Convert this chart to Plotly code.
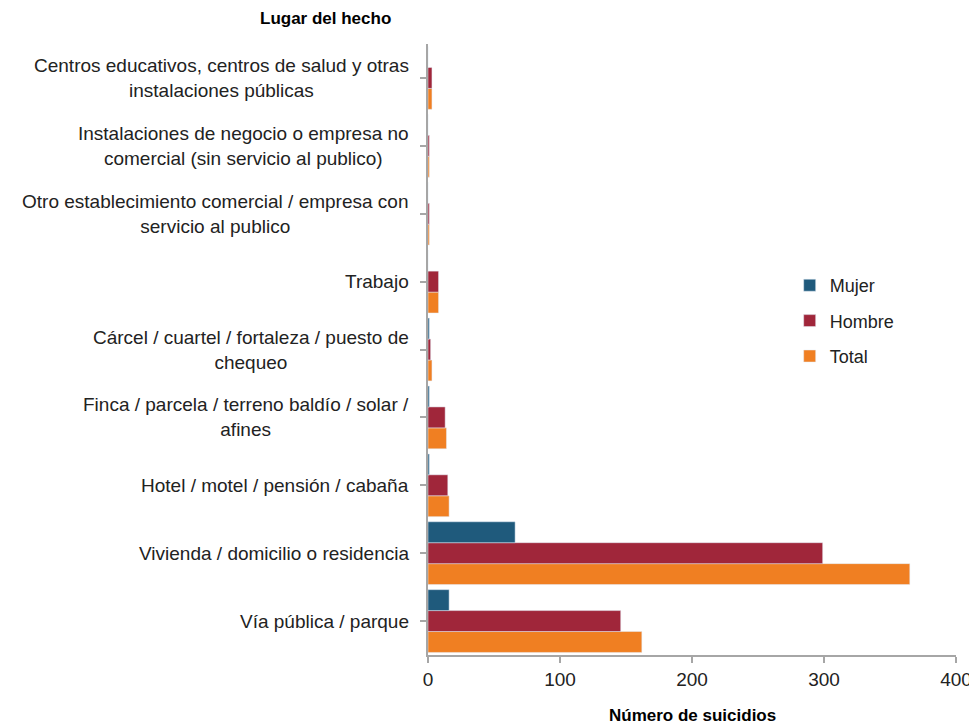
import plotly.graph_objects as go

categories = [
    "Vía pública / parque",
    "Vivienda / domicilio o residencia",
    "Hotel / motel / pensión / cabaña",
    "Finca / parcela / terreno baldío / solar /<br>afines",
    "Cárcel / cuartel / fortaleza / puesto de<br>chequeo",
    "Trabajo",
    "Otro establecimiento comercial / empresa con<br>servicio al publico",
    "Instalaciones de negocio o empresa no<br>comercial (sin servicio al publico)",
    "Centros educativos, centros de salud y otras<br>instalaciones públicas",
]
mujer = [16, 66, 1, 1, 1, 0, 0, 0, 0]
hombre = [146, 299, 15, 13, 2, 8, 1, 1, 3]
total = [162, 365, 16, 14, 3, 8, 1, 1, 3]
x_ticks = [0, 100, 200, 300, 400]

FONT = "Liberation Sans"
fig = go.Figure()
fig.add_trace(go.Bar(y=categories, x=total, name="Total", orientation="h",
                     marker_color="#F07F22", legendgroup="t", legendrank=3))
fig.add_trace(go.Bar(y=categories, x=hombre, name="Hombre", orientation="h",
                     marker_color="#A0263A", legendgroup="h", legendrank=2))
fig.add_trace(go.Bar(y=categories, x=mujer, name="Mujer", orientation="h",
                     marker_color="#1F5A7C", legendgroup="m", legendrank=1))

for c in categories:
    fig.add_annotation(x=0, xref="paper", y=c, yref="y", text=c, showarrow=False,
                       xanchor="right", align="center", xshift=-17,
                       font=dict(family=FONT, size=19, color="#222"))

fig.add_annotation(x=-0.195, xref="paper", y=1, yref="paper",
                   text="<b>Lugar del hecho</b>", showarrow=False,
                   xanchor="center", yanchor="middle", yshift=26,
                   font=dict(family=FONT, size=17, color="#000"))
fig.add_annotation(x=0.5, xref="paper", y=0, yref="paper", text="<b>Número de suicidios</b>",
                   showarrow=False, xanchor="center", yanchor="middle", yshift=-60,
                   font=dict(family=FONT, size=17, color="#000"))

fig.update_layout(
    width=969, height=716,
    margin=dict(l=420, r=21, t=36, b=69, autoexpand=False),
    barmode="group", bargap=0.075, bargroupgap=0,
    plot_bgcolor="white", paper_bgcolor="white",
    font=dict(family=FONT, size=18, color="#222"),
    legend=dict(x=0.685, y=0.635, xanchor="left", yanchor="top",
                traceorder="grouped", tracegroupgap=9,
                font=dict(family=FONT, size=18, color="#222"), itemwidth=30),
    showlegend=True,
)
fig.update_xaxes(range=[0, 400], tickvals=x_ticks, showgrid=False, zeroline=False,
                 showline=True, linecolor="#A6A6A6", linewidth=2, ticks="outside",
                 ticklen=6, tickcolor="#A6A6A6", tickwidth=1.5,
                 tickfont=dict(family=FONT, size=19, color="#222"))
fig.update_yaxes(showticklabels=False, showgrid=False, zeroline=False, showline=True,
                 linecolor="#A6A6A6", linewidth=2, ticks="outside", ticklen=6,
                 tickcolor="#A6A6A6", tickwidth=1.5)

fig.write_html("out.html")
